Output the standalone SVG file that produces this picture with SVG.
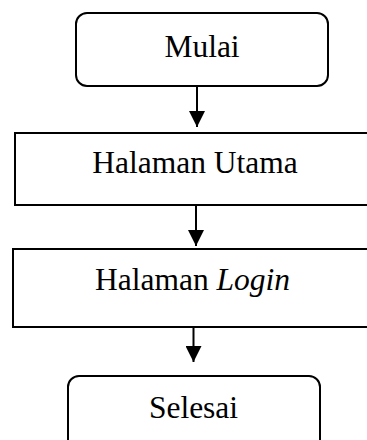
<svg xmlns="http://www.w3.org/2000/svg" width="367" height="440" viewBox="0 0 367 440">
<defs>
<style>
.box{fill:#fff;stroke:#000;stroke-width:2}
.t{font-family:"Liberation Serif","Times New Roman",serif;font-size:31.5px;fill:#000;text-anchor:middle}
.c{stroke:#000;stroke-width:2;fill:none}
</style>
<marker id="ah" markerUnits="userSpaceOnUse" markerWidth="16" markerHeight="16" viewBox="0 0 16 16" refX="16" refY="8" orient="auto">
<path d="M0,0 L16,8 L0,16 Z" fill="#000"/>
</marker>
</defs>
<rect width="367" height="440" fill="#fff"/>
<g id="connectors">
<line class="c" x1="197" y1="86" x2="197" y2="127" marker-end="url(#ah)"/>
<line class="c" x1="196" y1="205" x2="196" y2="246" marker-end="url(#ah)"/>
<line class="c" x1="193.5" y1="327" x2="193.5" y2="362" marker-end="url(#ah)"/>
</g>
<g id="mulai">
<rect class="box" x="76" y="13" width="252" height="73" rx="11"/>
<text class="t" x="202" y="57">Mulai</text>
</g>
<g id="halaman-utama">
<rect class="box" x="15" y="133" width="362" height="72"/>
<text class="t" x="195" y="173">Halaman Utama</text>
</g>
<g id="halaman-login">
<rect class="box" x="13" y="249" width="364" height="78"/>
<text class="t" x="192.5" y="290">Halaman <tspan font-style="italic">Login</tspan></text>
</g>
<g id="selesai">
<rect class="box" x="68" y="376" width="252" height="80" rx="11"/>
<text class="t" x="193.5" y="418">Selesai</text>
</g>
</svg>
